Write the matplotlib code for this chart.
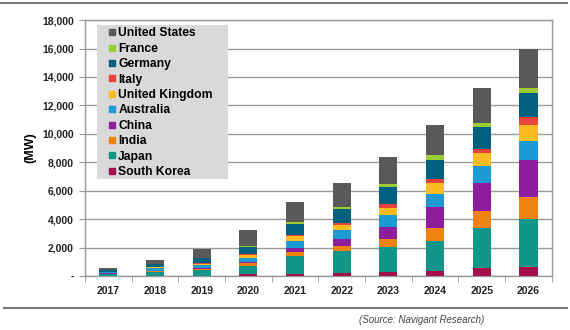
#!/usr/bin/env python3

import numpy as np
import matplotlib
matplotlib.use('Agg')
import matplotlib.pyplot as plt
from matplotlib.lines import Line2D
from matplotlib.patches import Rectangle
from matplotlib.ticker import FuncFormatter

plt.rcParams['font.family'] = ['Liberation Sans', 'DejaVu Sans']

years = ['2017', '2018', '2019', '2020', '2021', '2022', '2023', '2024', '2025', '2026']

# stack order, bottom to top (MW)
south_korea = [10, 20, 30, 120, 140, 190, 300, 370, 590, 660]
japan       = [140, 280, 380, 600, 1250, 1570, 1720, 2110, 2810, 3350]
india       = [20, 40, 80, 170, 300, 350, 560, 870, 1170, 1570]
china       = [10, 20, 40, 120, 300, 490, 890, 1480, 1990, 2580]
australia   = [90, 170, 250, 230, 490, 630, 820, 940, 1200, 1360]
uk          = [40, 80, 100, 240, 310, 360, 510, 750, 870, 1100]
italy       = [5, 10, 20, 40, 70, 120, 240, 280, 330, 540]
germany     = [80, 200, 360, 540, 800, 980, 1200, 1360, 1500, 1690]
france      = [10, 20, 30, 50, 160, 140, 230, 350, 330, 395]
us          = [135, 290, 580, 1130, 1410, 1710, 1920, 2110, 2410, 2695]

series = [
    ('South Korea', south_korea, '#a50f4a'),
    ('Japan', japan, '#12968a'),
    ('India', india, '#f0820f'),
    ('China', china, '#8e1d9e'),
    ('Australia', australia, '#1b9ad6'),
    ('United Kingdom', uk, '#fdbb22'),
    ('Italy', italy, '#e8443a'),
    ('Germany', germany, '#00607f'),
    ('France', france, '#9acd32'),
    ('United States', us, '#595959'),
]

W, H = 570, 330
fig = plt.figure(figsize=(5.7, 3.3), dpi=100)
ax = fig.add_axes([0.149, 0.1636, 0.819, 0.7754])

x = np.arange(len(years))
bottom = np.zeros(len(years))
for name, vals, col in series:
    ax.bar(x, vals, 0.39, bottom=bottom, color=col, label=name, zorder=3)
    bottom += np.array(vals)

ax.set_xlim(-0.5, len(years) - 0.5)
ax.set_ylim(0, 18000)
ax.set_yticks(np.arange(0, 18001, 2000))
ax.yaxis.set_major_formatter(FuncFormatter(lambda v, p: '-' if v == 0 else f'{int(v):,}'))
ax.set_xticks(x)
ax.set_xticklabels(years)
ax.set_xticks(np.arange(-0.5, len(years), 1.0), minor=True)
ax.tick_params(axis='x', which='major', length=0, pad=7)
ax.tick_params(axis='x', which='minor', length=4, color='#999999', direction='out')
ax.tick_params(axis='y', length=4, color='#999999', pad=4)
for lab in ax.get_xticklabels() + ax.get_yticklabels():
    lab.set_fontsize(7.5)
    lab.set_fontweight('bold')
    lab.set_color('#222222')

ax.grid(axis='y', color='#9a9a9a', linewidth=1.0, zorder=0)
for s in ax.spines.values():
    s.set_color('#9a9a9a')
    s.set_linewidth(1.0)

ax.set_ylabel('(MW)', fontsize=9, fontweight='bold', labelpad=4)

# legend: grey box drawn by hand, legend itself without frame
fig.add_artist(Rectangle((97 / W, 1 - 179 / H), (228 - 97) / W, (179 - 25) / H,
                         transform=fig.transFigure, facecolor='#d9d9d9',
                         edgecolor='none', zorder=4))
handles = [Line2D([], [], marker='s', linestyle='none', markersize=5,
                  color=col, label=name) for name, vals, col in series[::-1]]
leg = fig.legend(handles=handles, loc='upper left',
                 bbox_to_anchor=(108 / W, 1 - 27.5 / H),
                 frameon=False, prop={'size': 8.7, 'weight': 'bold'},
                 handlelength=0.6, handletextpad=0.25, labelspacing=0.28,
                 borderpad=0.0, borderaxespad=0.0)
leg.set_zorder(5)

# page rules and source line
fig.add_artist(Line2D([0.0, 0.995], [0.99, 0.99], color='#777777', linewidth=1.5))
fig.add_artist(Line2D([0.007, 0.995], [0.068, 0.068], color='#777777', linewidth=1.5))
fig.text(0.74, 0.03, '(Source: Navigant Research)', fontsize=7, style='italic',
         color='#444444', ha='center', va='center')

fig.savefig('out.png', dpi=100)
